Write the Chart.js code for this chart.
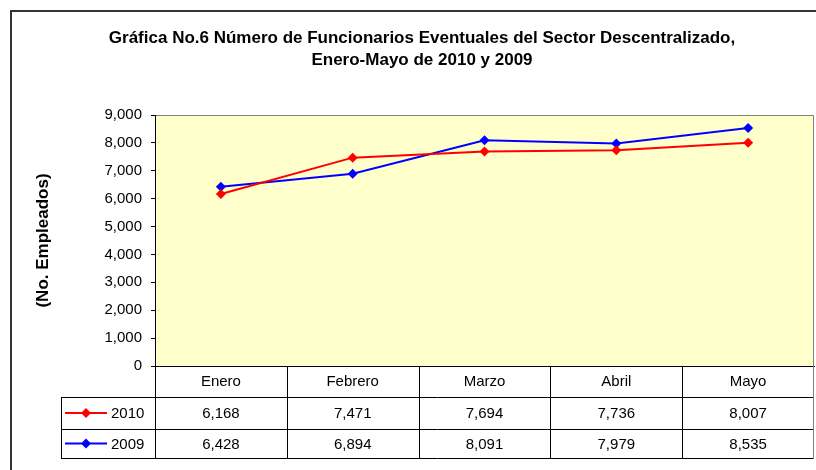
<!DOCTYPE html>
<html><head><meta charset="utf-8">
<script src="https://cdn.jsdelivr.net/npm/chart.js@4"></script>
<style>html,body{margin:0;padding:0;background:#fff;overflow:hidden}canvas{display:block}</style>
</head><body>
<canvas id="c" width="816" height="470"></canvas>
<script>
const categories = ['Enero','Febrero','Marzo','Abril','Mayo'];
const series2010 = [6168,7471,7694,7736,8007];
const series2009 = [6428,6894,8091,7979,8535];
const seriesNames = ['2010','2009'];
const seriesColors = ['#FF0000','#0000FF'];
const titleLines = ['Gráfica No.6 Número de Funcionarios Eventuales del Sector Descentralizado,','Enero-Mayo de 2010 y 2009'];
const yAxisTitle = '(No. Empleados)';
const yMin = 0, yMax = 9000, yStep = 1000;

const FONT = "'Liberation Sans', Arial, sans-serif";
const fmt = v => Number(v).toLocaleString('en-US');

function diamond(ctx, x, y, r, color){
  ctx.beginPath();
  ctx.moveTo(x, y - r); ctx.lineTo(x + r, y); ctx.lineTo(x, y + r); ctx.lineTo(x - r, y);
  ctx.closePath(); ctx.fillStyle = color; ctx.fill();
}

const framePlugin = {
  id: 'frame',
  beforeDraw(chart){
    const {ctx, chartArea: a} = chart;
    ctx.save();
    ctx.fillStyle = '#fff'; ctx.fillRect(0, 0, chart.width, chart.height);
    ctx.strokeStyle = '#333'; ctx.lineWidth = 2;
    ctx.strokeRect(11, 11, chart.width + 50, chart.height + 50);
    ctx.fillStyle = '#FFFFCC';
    ctx.fillRect(a.left, a.top, a.right - a.left, a.bottom - a.top);
    ctx.strokeStyle = '#808080'; ctx.lineWidth = 1;
    ctx.beginPath();
    ctx.moveTo(a.left, Math.round(a.top) + 0.5);
    ctx.lineTo(Math.round(a.right) - 0.5, Math.round(a.top) + 0.5);
    ctx.lineTo(Math.round(a.right) - 0.5, a.bottom);
    ctx.stroke();
    ctx.fillStyle = '#000'; ctx.font = 'bold 17px ' + FONT;
    ctx.textAlign = 'center'; ctx.textBaseline = 'middle';
    ctx.fillText(titleLines[0], 422, 38);
    ctx.fillText(titleLines[1], 422, 60);
    ctx.restore();
  },
  afterDraw(chart){
    const {ctx, chartArea: a} = chart;
    const x = chart.scales.x;
    const rows = [a.bottom, a.bottom + 31, a.bottom + 63, a.bottom + 92];
    const half = (x.getPixelForValue(1) - x.getPixelForValue(0)) / 2;
    const bounds = categories.map((c, i) => x.getPixelForValue(i) - half);
    bounds.push(x.getPixelForValue(categories.length - 1) + half);
    const labelLeft = 61;
    const p = v => Math.round(v) + 0.5;
    ctx.save();
    ctx.lineWidth = 1; ctx.strokeStyle = '#000';
    ctx.beginPath();
    for (let r = 1; r < rows.length; r++){
      ctx.moveTo(labelLeft, p(rows[r])); ctx.lineTo(bounds[bounds.length - 1], p(rows[r]));
    }
    ctx.moveTo(p(labelLeft), rows[1]); ctx.lineTo(p(labelLeft), rows[3] + 1);
    for (let i = 0; i < bounds.length - 1; i++){
      ctx.moveTo(p(bounds[i]), rows[0]); ctx.lineTo(p(bounds[i]), rows[3] + 1);
    }
    ctx.stroke();
    ctx.strokeStyle = '#808080';
    ctx.beginPath();
    ctx.moveTo(Math.round(bounds[bounds.length - 1]) - 0.5, rows[0]);
    ctx.lineTo(Math.round(bounds[bounds.length - 1]) - 0.5, rows[3] + 1);
    ctx.stroke();

    const all = [series2010, series2009];
    ctx.font = '15px ' + FONT; ctx.textBaseline = 'middle';
    all.forEach((s, si) => {
      const cy = (rows[si + 1] + rows[si + 2]) / 2;
      ctx.fillStyle = '#000'; ctx.textAlign = 'center';
      s.forEach((v, i) => ctx.fillText(fmt(v), x.getPixelForValue(i), cy + 1));
      ctx.strokeStyle = seriesColors[si]; ctx.lineWidth = 2;
      ctx.beginPath(); ctx.moveTo(65, cy); ctx.lineTo(107, cy); ctx.stroke();
      diamond(ctx, 86, cy, 5, seriesColors[si]);
      ctx.fillStyle = '#000'; ctx.textAlign = 'left';
      ctx.fillText(seriesNames[si], 111, cy + 1);
    });
    ctx.restore();
  }
};

new Chart(document.getElementById('c'), {
  type: 'line',
  data: {
    labels: categories,
    datasets: [series2010, series2009].map((d, i) => ({
      label: seriesNames[i],
      data: d,
      borderColor: seriesColors[i],
      backgroundColor: seriesColors[i],
      borderWidth: 2,
      pointStyle: 'rectRot',
      pointRadius: 5,
      pointBorderWidth: 0,
      tension: 0,
      fill: false
    }))
  },
  options: {
    responsive: false,
    animation: false,
    devicePixelRatio: 1,
    layout: { autoPadding: false, padding: { left: 12, right: 2, top: 115, bottom: 12 } },
    plugins: { legend: { display: false }, title: { display: false }, tooltip: { enabled: false } },
    scales: {
      x: {
        type: 'category', offset: true,
        grid: { display: true, drawOnChartArea: false, drawTicks: false },
        border: { color: '#000', width: 1 },
        ticks: { font: { family: FONT, size: 15 }, color: '#000', padding: 7, maxRotation: 0 },
        afterFit(s){ s.height = 92; s.paddingRight = 0; s.paddingLeft = 0; }
      },
      y: {
        min: yMin, max: yMax,
        ticks: { stepSize: yStep, callback: v => fmt(v), font: { family: FONT, size: 15 }, color: '#000', padding: 9 },
        grid: { drawOnChartArea: false, color: '#000', tickLength: 4 },
        border: { color: '#000', width: 1 },
        title: { display: true, text: yAxisTitle, font: { family: FONT, size: 17, weight: 'bold' }, color: '#000', padding: { top: 21, bottom: 0 } },
        afterFit(s){ s.width = 143; }
      }
    }
  },
  plugins: [framePlugin]
});
</script>
</body></html>
